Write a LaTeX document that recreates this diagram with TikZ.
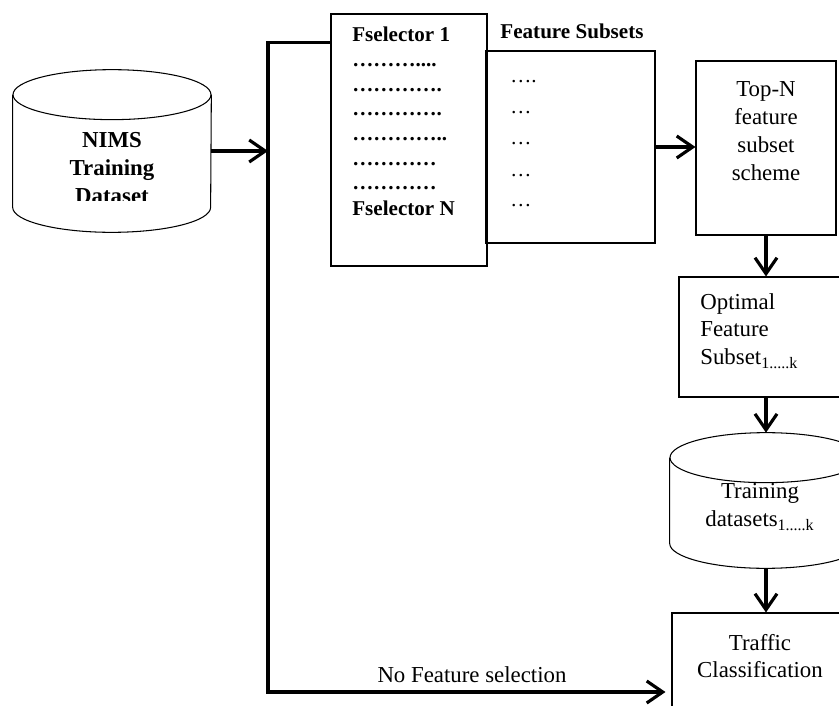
\documentclass[tikz,border=0pt]{standalone}
\usepackage{fontspec}
\setmainfont{Liberation Serif}
\usetikzlibrary{arrows.meta}

\tikzset{
  box/.style={draw, rectangle, line width=0.6pt, inner sep=0pt},
  store/.style={rectangle, inner sep=0pt},
  flow/.style={line width=1.8pt, -{Straight Barb[length=3.2mm,width=4.4mm]}},
  trunk/.style={line width=1.8pt},
  bodytext/.style={font=\fontsize{13}{15.8}\selectfont, inner sep=0pt},
  boldtext/.style={font=\bfseries\fontsize{13}{15.8}\selectfont, inner sep=0pt},
  listtext/.style={font=\bfseries\fontsize{12}{14}\selectfont, inner sep=0pt, anchor=base west},
  subtext/.style={font=\fontsize{12}{14}\selectfont, inner sep=0pt, anchor=base west},
}

% outline of a database drum around a store node: #1 node, #2 half width
\newcommand\drawdrum[2]{%
  \draw[line width=0.6pt] ([yshift=-0.5cm]#1.north) ellipse [x radius=#2, y radius=0.5cm];
  \draw[line width=0.6pt] ([yshift=-0.5cm]#1.north west) -- ([yshift=0.5cm]#1.south west)
    arc [start angle=180, end angle=360, x radius=#2, y radius=0.5cm]
    -- ([yshift=-0.5cm]#1.north east);
}

\begin{document}
\begin{tikzpicture}[x=0.02cm, y=-0.02cm]
\useasboundingbox (0,0) rectangle (839,706);

% Input dataset
\node[store, minimum width=3.96cm, minimum height=3.24cm] (nims) at (112,151) {};
\drawdrum{nims}{1.98cm}
\begin{scope}
\clip (0,0) rectangle (839,201);
\node[boldtext, align=center] (nimslabel) at (112,168) {NIMS\\Training\\Dataset};
\end{scope}

% Feature selectors and their subsets
\node[box, minimum width=3.12cm, minimum height=5.04cm] (fsel) at (409,140) {};
\node[listtext] (fs1) at (352,42) {Fselector 1};
\node[listtext] (fs2) at (352,66.7) {………....};
\node[listtext] (fs3) at (352,91.4) {………….};
\node[listtext] (fs4) at (352,116) {………….};
\node[listtext] (fs5) at (352,140.8) {…………..};
\node[listtext] (fs6) at (352,165.5) {…………};
\node[listtext] (fs7) at (352,190) {…………};
\node[listtext] (fs8) at (352,215) {Fselector N};

\node[box, minimum width=3.38cm, minimum height=3.84cm] (fsubs) at (570.5,147) {};
\node[listtext, anchor=center] (fsubslabel) at (572,31) {Feature Subsets};
\node[subtext] (sub1) at (510,83) {….};
\node[subtext] (sub2) at (510,114) {…};
\node[subtext] (sub3) at (510,145) {…};
\node[subtext] (sub4) at (510,176) {…};
\node[subtext] (sub5) at (510,207) {…};

% Right hand column
\node[box, minimum width=2.8cm, minimum height=3.48cm] (topn) at (766,148) {};
\node[bodytext, align=center] (topnlabel) at (766,131) {Top-N\\feature\\subset\\scheme};

\node[box, minimum width=3.42cm, minimum height=2.4cm] (optimal) at (764.5,337) {};
\node[bodytext, align=left, anchor=west] (optimallabel) at (700,331) {Optimal\\Feature\\Subset\textsubscript{1.....k}};

\node[store, minimum width=3.84cm, minimum height=2.7cm] (train) at (766,500.5) {};
\drawdrum{train}{1.92cm}
\node[bodytext, align=center] (trainlabel) at (760,507) {Training\\datasets\textsubscript{1.....k}};

\node[box, minimum width=3.52cm, minimum height=2.2cm] (traffic) at (760,668) {};
\node[bodytext, align=center] (trafficlabel) at (760,656) {Traffic\\Classification};

% Connectors
\coordinate (split) at (268,150);
\coordinate (nosel) at (268,692);
\draw[flow] (nims.east) -- (nims.east -| split);
\draw[trunk] ([yshift=-0.58cm]fsel.north west) -| (split);
\draw[flow] (split) -- (nosel) -- ([xshift=-0.12cm]nosel -| traffic.west);
\node[bodytext] (nofs) at (472,675) {No Feature selection};

\draw[flow] (fsubs.east) -- (fsubs.east -| topn.west);
\draw[flow] (topn.south) -- (topn.south |- optimal.north);
\draw[flow] (topn.south |- optimal.south) -- (train.north);
\draw[flow] (train.south) -- (train.south |- traffic.north);
\end{tikzpicture}
\end{document}
